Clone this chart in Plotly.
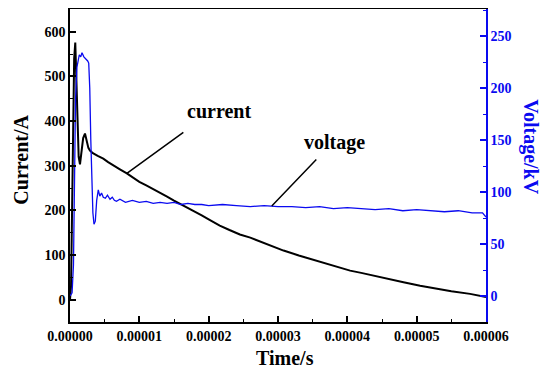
import plotly.graph_objects as go

# ---- data ----
current_t_us = [0.0, 0.15, 0.3, 0.45, 0.6, 0.76, 0.9, 1.05, 1.25, 1.44, 1.65, 1.9, 2.16, 2.4, 2.65,
                2.88, 3.3, 4.0, 4.8, 5.5, 6.5, 7.2, 8.2, 9.0, 10.0, 11.0, 12.0, 13.0, 14.0, 15.0,
                16.0, 16.8, 18.0, 19.0, 20.0, 21.6, 23.0, 24.5, 26.0, 27.0, 28.5, 30.8, 33.0,
                35.6, 38.0, 40.4, 42.0, 44.2, 46.0, 48.1, 50.5, 52.9, 55.0, 57.7, 60.0]
current_A = [0, 30, 200, 420, 540, 576, 500, 400, 320, 303, 335, 362, 372, 358, 340,
             334, 328, 322, 316, 308, 298, 292, 283, 274, 264, 256, 248, 239, 231, 222,
             214, 207, 197, 189, 180, 166, 156, 146, 139, 133, 124, 110, 99,
             87, 76, 65, 60, 52, 45, 39, 31, 24, 19, 13, 6]

voltage_t_us = [0.0, 0.3, 0.5, 0.62, 0.8, 1.0, 1.34, 1.55, 1.73, 2.0, 2.3, 2.55, 2.7, 2.85, 3.0,
                3.15, 3.3, 3.46, 3.65, 3.85, 4.08, 4.3, 4.55, 4.8, 5.1, 5.4, 5.77, 6.1, 6.4, 6.7,
                7.2, 8.0, 9.0, 10.0, 11.0, 12.0, 13.0, 14.0, 15.0, 16.0, 17.0, 18.0, 19.0, 20.0,
                22.0, 24.0, 26.0, 28.0, 30.0, 32.0, 34.0, 36.0, 38.0, 40.0, 42.0, 44.0, 46.0,
                48.0, 50.0, 52.0, 54.0, 56.0, 58.0, 59.5, 60.0]
voltage_kV = [0, 3, 30, 120, 190, 220, 232, 230, 234, 230, 228, 226, 224, 200, 150,
              110, 80, 69, 72, 92, 102, 96, 99, 95, 94, 97, 93, 95, 92, 91,
              93, 90, 92, 90, 91, 89, 90, 89, 90, 88, 89, 88, 88, 87,
              88, 87, 86, 87, 86, 86, 85, 86, 84, 85, 84, 83, 84,
              82, 83, 82, 81, 82, 80, 80, 76]

x_tickvals = [0, 1e-5, 2e-5, 3e-5, 4e-5, 5e-5, 6e-5]
x_ticktext = ["0.00000", "0.00001", "0.00002", "0.00003", "0.00004", "0.00005", "0.00006"]
y_tickvals = [0, 100, 200, 300, 400, 500, 600]
y2_tickvals = [0, 50, 100, 150, 200, 250]

# leader-line anchor points on the curves
current_label_t_us = 8.2
current_label_A = 283
voltage_label_t_us = 29.1
voltage_label_kV = 86.5

FONT = "Liberation Serif, Times New Roman, serif"
BLUE = "#0a0af0"

fig = go.Figure()
fig.add_trace(go.Scatter(x=[t * 1e-6 for t in current_t_us], y=current_A, mode="lines",
                         line=dict(color="black", width=2), name="current", yaxis="y"))
fig.add_trace(go.Scatter(x=[t * 1e-6 for t in voltage_t_us], y=voltage_kV, mode="lines",
                         line=dict(color=BLUE, width=1.3), name="voltage", yaxis="y2"))

tickfont = dict(family=FONT, size=14, color="black", weight="bold")

# page body has an 8px margin, so the figure is sized/offset to land on the window
fig.update_layout(
    width=542, height=367,
    margin=dict(l=62, r=64, t=1, b=53),
    paper_bgcolor="white", plot_bgcolor="white",
    showlegend=False,
    font=dict(family=FONT),
    xaxis=dict(range=[0, 6e-5], tickvals=x_tickvals, ticktext=x_ticktext,
               ticks="inside", ticklen=6, tickwidth=1.5, tickcolor="black",
               minor=dict(ticks="inside", dtick=5e-6, tick0=0, ticklen=3, tickwidth=1.2,
                          tickcolor="black"),
               showline=True, linecolor="black", linewidth=1.5, mirror=True,
               showgrid=False, zeroline=False, tickfont=tickfont, automargin=False),
    yaxis=dict(range=[-50, 651], tickvals=y_tickvals,
               ticks="inside", ticklen=6, tickwidth=1.5, tickcolor="black",
               minor=dict(ticks="inside", dtick=50, tick0=0, ticklen=3, tickwidth=1.2,
                          tickcolor="black"),
               showline=True, linecolor="black", linewidth=1.5,
               showgrid=False, zeroline=False, tickfont=tickfont, automargin=False),
    yaxis2=dict(range=[-25, 276], tickvals=y2_tickvals, overlaying="y", side="right",
                ticks="inside", ticklen=6, tickwidth=1.5, tickcolor=BLUE,
                minor=dict(ticks="inside", dtick=25, tick0=0, ticklen=3, tickwidth=1.2,
                           tickcolor=BLUE),
                showline=True, linecolor=BLUE, linewidth=1.5,
                showgrid=False, zeroline=False, automargin=False,
                tickfont=dict(family=FONT, size=14, color=BLUE, weight="bold")),
)

title_font = dict(family=FONT, size=20, color="black", weight="bold")
common = dict(xref="paper", yref="paper", showarrow=False, xanchor="center", yanchor="middle")
fig.add_annotation(text="Time/s", x=0.517, y=-0.115, font=title_font, **common)
fig.add_annotation(text="Current/A", x=-0.12, y=0.519, textangle=-90, font=title_font, **common)
fig.add_annotation(text="Voltage/kV", x=1.106, y=0.561, textangle=90,
                   font=dict(family=FONT, size=20, color=BLUE, weight="bold"), **common)
fig.add_annotation(text="current", x=0.358, y=0.674, font=title_font, **common)
fig.add_annotation(text="voltage", x=0.636, y=0.575, font=title_font, **common)
# leader lines
fig.add_annotation(text="", x=current_label_t_us * 1e-6, y=current_label_A, xref="x", yref="y",
                   showarrow=True, arrowhead=0, arrowwidth=1.5, arrowcolor="black",
                   ax=58, ay=-42, standoff=0, startstandoff=0)
fig.add_annotation(text="", x=voltage_label_t_us * 1e-6, y=voltage_label_kV, xref="x", yref="y2",
                   showarrow=True, arrowhead=0, arrowwidth=1.5, arrowcolor="black",
                   ax=46, ay=-48, standoff=0, startstandoff=0)

fig.write_html("out.html")
